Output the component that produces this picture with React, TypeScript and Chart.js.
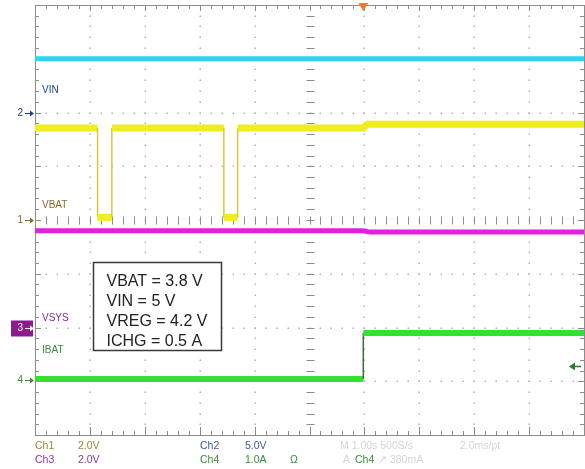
import React, { useEffect, useRef } from 'react';
import { Chart, registerables } from 'chart.js';

Chart.register(...registerables);

// ---- data (time in seconds, 1 s/div, 10 divisions) ----
const CHANNELS = ['Ch1', 'Ch2', 'Ch3', 'Ch4'];
const CH_NAMES = ['VBAT', 'VIN', 'VSYS', 'IBAT'];
const CH_SCALE = [2.0, 5.0, 2.0, 1.0];           // units per division
const CH_SCALE_TEXT = ['2.0V', '5.0V', '2.0V', '1.0A'];
const CH_GROUND_DIV = [0, 2, -2, -2.98];          // ground marker position (div)

const VBAT_T = [0, 1.14, 1.14, 1.4, 1.4, 3.44, 3.44, 3.69, 3.69, 5.98, 6.06, 10];
const VBAT_V = [3.42, 3.42, 0.1, 0.1, 3.42, 3.42, 0.1, 0.1, 3.42, 3.42, 3.56, 3.56];

const VIN_T = [0, 10];
const VIN_V = [5.0, 5.0];

const VSYS_T = [0, 5.98, 6.1, 10];
const VSYS_V = [3.6, 3.6, 3.55, 3.55];

const IBAT_T = [0, 5.98, 5.98, 10];
const IBAT_A = [0.02, 0.02, 0.88, 0.88];

const TRIGGER_T = 5.98;
const TRIGGER_LEVEL_A = 0.27;

const BOX_LINES = ['VBAT = 3.8 V', 'VIN = 5 V', 'VREG = 4.2 V', 'ICHG = 0.5 A'];
const TIMEBASE_TEXT = 'M 1.00s 500S/s';
const RECORD_TEXT = '2.0ms/pt';
const TRIGGER_TEXT = '380mA';

// ---- styles ----
const TRACE_COLORS = ['#eeee1e', '#2ad6ee', '#e21fe2', '#35e035'];
const EDGE_COLORS = ['#d2ca38', '#2ad6ee', '#e21fe2', '#3f6a3f'];
const TRACE_WIDTHS = [7, 5, 5, 6];
const LABEL_COLORS = ['#8a6a2a', '#1f3f8c', '#8a2a9a', '#3f8a3f'];
const BOTTOM_COLORS = ['#a0803c', '#3c5c9c', '#8a3a9a', '#3c8c3c'];
const LABEL_DIV = [0.27, 2.41, -1.82, -2.43];

function toDiv(ch: number, v: number) {
  return v / CH_SCALE[ch] + CH_GROUND_DIV[ch];
}

function series(ch: number, t: number[], v: number[]) {
  return t.map((tt, i) => ({ x: tt, y: toDiv(ch, v[i]) }));
}

const FONT = "'Liberation Sans', Arial, sans-serif";

const scopePlugin = {
  id: 'scope',
  beforeDatasetsDraw(chart: any) {
    const { ctx, chartArea: a, scales } = chart;
    const x = scales.x;
    const y = scales.y;
    ctx.save();
    // dotted grid
    ctx.fillStyle = '#b4b4b4';
    for (let d = 1; d <= 9; d++) {
      if (d === 5) continue;
      const px = Math.round(x.getPixelForValue(d));
      for (let m = 1; m < 40; m++) {
        const py = Math.round(y.getPixelForValue(-4 + m * 0.2));
        ctx.fillRect(px - 0.5, py - 0.5, 1.5, 1.5);
      }
    }
    for (let d = -3; d <= 3; d++) {
      if (d === 0) continue;
      const py = Math.round(y.getPixelForValue(d));
      for (let m = 1; m < 50; m++) {
        const px = Math.round(x.getPixelForValue(m * 0.2));
        ctx.fillRect(px - 0.5, py - 0.5, 1.5, 1.5);
      }
    }
    // ticks
    ctx.strokeStyle = '#8c8c8c';
    ctx.lineWidth = 1;
    ctx.beginPath();
    const cx = Math.round(x.getPixelForValue(5)) + 0.5;
    const cy = Math.round(y.getPixelForValue(0)) + 0.5;
    for (let m = 1; m < 50; m++) {
      const px = Math.round(x.getPixelForValue(m * 0.2)) + 0.5;
      const major = m % 5 === 0;
      ctx.moveTo(px, cy - 4);
      ctx.lineTo(px, cy + 4);
      ctx.moveTo(px, a.top);
      ctx.lineTo(px, a.top + (major ? 6 : 4));
      ctx.moveTo(px, a.bottom);
      ctx.lineTo(px, a.bottom - (major ? 8 : 4));
    }
    for (let m = 1; m < 40; m++) {
      const py = Math.round(y.getPixelForValue(-4 + m * 0.2)) + 0.5;
      const major = m % 5 === 0;
      ctx.moveTo(cx - 4, py);
      ctx.lineTo(cx + 4, py);
      ctx.moveTo(a.left, py);
      ctx.lineTo(a.left + (major ? 6 : 4), py);
      ctx.moveTo(a.right, py);
      ctx.lineTo(a.right - (major ? 6 : 4), py);
    }
    ctx.stroke();
    // border
    ctx.strokeStyle = '#8c8c8c';
    ctx.strokeRect(Math.round(a.left) + 0.5, Math.round(a.top) + 0.5, Math.round(a.right - a.left), Math.round(a.bottom - a.top));
    ctx.restore();
  },
  afterDraw(chart: any) {
    const { ctx, chartArea: a, scales } = chart;
    const x = scales.x;
    const y = scales.y;
    ctx.save();
    // channel ground markers and labels
    for (let ch = 0; ch < 4; ch++) {
      const gy = Math.round(y.getPixelForValue(CH_GROUND_DIV[ch])) + 0.5;
      let fg = LABEL_COLORS[ch];
      if (ch === 2) {
        ctx.fillStyle = '#8c1a8c';
        ctx.fillRect(a.left - 24, gy - 8, 22, 16);
        fg = '#ffffff';
      }
      ctx.fillStyle = fg;
      ctx.strokeStyle = fg;
      ctx.font = `10px ${FONT}`;
      ctx.textAlign = 'right';
      ctx.textBaseline = 'middle';
      ctx.fillText(String(ch + 1), a.left - 12, gy);
      ctx.lineWidth = 1;
      ctx.beginPath();
      ctx.moveTo(a.left - 10, gy);
      ctx.lineTo(a.left - 3, gy);
      ctx.stroke();
      ctx.beginPath();
      ctx.moveTo(a.left - 1, gy);
      ctx.lineTo(a.left - 5, gy - 3);
      ctx.lineTo(a.left - 5, gy + 3);
      ctx.closePath();
      ctx.fill();
      ctx.fillStyle = LABEL_COLORS[ch];
      ctx.textAlign = 'left';
      ctx.font = `10px ${FONT}`;
      ctx.fillText(CH_NAMES[ch], a.left + 7, y.getPixelForValue(LABEL_DIV[ch]));
    }
    // trigger position marker
    const tx = x.getPixelForValue(TRIGGER_T);
    ctx.fillStyle = '#f07a2a';
    ctx.beginPath();
    ctx.moveTo(tx - 5, a.top - 2);
    ctx.lineTo(tx + 5, a.top - 2);
    ctx.lineTo(tx, a.top + 6);
    ctx.closePath();
    ctx.fill();
    // trigger level marker
    const ty = Math.round(y.getPixelForValue(toDiv(3, TRIGGER_LEVEL_A))) + 0.5;
    ctx.strokeStyle = '#2f7a2f';
    ctx.fillStyle = '#2f7a2f';
    ctx.lineWidth = 1.5;
    ctx.beginPath();
    ctx.moveTo(a.right - 12, ty);
    ctx.lineTo(a.right - 3, ty);
    ctx.stroke();
    ctx.beginPath();
    ctx.moveTo(a.right - 15, ty);
    ctx.lineTo(a.right - 9, ty - 4);
    ctx.lineTo(a.right - 9, ty + 4);
    ctx.closePath();
    ctx.fill();
    // info box
    const bl = Math.round(x.getPixelForValue(1.055)) + 0.5;
    const br = Math.round(x.getPixelForValue(3.38)) + 0.5;
    const bt = Math.round(y.getPixelForValue(-0.78)) + 0.5;
    const bb = Math.round(y.getPixelForValue(-2.42)) + 0.5;
    ctx.fillStyle = '#ffffff';
    ctx.fillRect(bl, bt, br - bl, bb - bt);
    ctx.strokeStyle = '#3a3a3a';
    ctx.lineWidth = 1.5;
    ctx.strokeRect(bl, bt, br - bl, bb - bt);
    ctx.fillStyle = '#222222';
    ctx.font = `16px ${FONT}`;
    ctx.textAlign = 'left';
    ctx.textBaseline = 'middle';
    BOX_LINES.forEach((s, i) => ctx.fillText(s, bl + 13, bt + 19 + i * 20));
    // bottom readouts
    ctx.font = `10.5px ${FONT}`;
    ctx.textBaseline = 'middle';
    const rows = [a.bottom + 11, a.bottom + 25];
    const cols = [[0, 2], [1, 3]];
    const colX = [[a.left, a.left + 43], [a.left + 165, a.left + 210]];
    cols.forEach((chs, ci) => {
      chs.forEach((ch, ri) => {
        ctx.fillStyle = BOTTOM_COLORS[ch];
        ctx.fillText(CHANNELS[ch], colX[ci][0], rows[ri]);
        ctx.fillText(CH_SCALE_TEXT[ch], colX[ci][1], rows[ri]);
      });
    });
    ctx.fillStyle = BOTTOM_COLORS[3];
    ctx.fillText('Ω', a.left + 255, rows[1]);
    ctx.fillStyle = '#d4d4d4';
    ctx.fillText(TIMEBASE_TEXT, a.left + 305, rows[0]);
    ctx.fillText(RECORD_TEXT, a.left + 425, rows[0]);
    ctx.fillText('A', a.left + 308, rows[1]);
    ctx.fillText('↗ ' + TRIGGER_TEXT, a.left + 343, rows[1]);
    ctx.fillStyle = BOTTOM_COLORS[3];
    ctx.fillText(CHANNELS[3], a.left + 320, rows[1]);
    ctx.restore();
  },
};

export default function App() {
  const ref = useRef<HTMLCanvasElement | null>(null);
  useEffect(() => {
    if (!ref.current) return;
    const traces = [
      series(3, IBAT_T, IBAT_A),
      series(0, VBAT_T, VBAT_V),
      series(1, VIN_T, VIN_V),
      series(2, VSYS_T, VSYS_V),
    ];
    const chOrder = [3, 0, 1, 2];
    const chart = new Chart(ref.current, {
      type: 'line',
      data: {
        datasets: traces.map((d, i) => {
          const ch = chOrder[i];
          return {
            label: CH_NAMES[ch],
            data: d,
            borderColor: TRACE_COLORS[ch],
            borderWidth: TRACE_WIDTHS[ch],
            pointRadius: 0,
            tension: 0,
            borderCapStyle: 'butt',
            borderJoinStyle: 'miter',
            segment: {
              borderWidth: (c: any) => (c.p0.parsed.x === c.p1.parsed.x ? 1.5 : TRACE_WIDTHS[ch]),
              borderColor: (c: any) => (c.p0.parsed.x === c.p1.parsed.x ? EDGE_COLORS[ch] : TRACE_COLORS[ch]),
            },
          } as any;
        }),
      },
      options: {
        animation: false,
        responsive: false,
        devicePixelRatio: 1,
        events: [],
        layout: { padding: { left: 35, right: 1, top: 5, bottom: 34 } },
        plugins: { legend: { display: false }, tooltip: { enabled: false } },
        scales: {
          x: { type: 'linear', min: 0, max: 10, display: false },
          y: { type: 'linear', min: -4, max: 4, display: false },
        },
      },
      plugins: [scopePlugin],
    });
    return () => chart.destroy();
  }, []);
  return (
    <div style={{ position: 'absolute', left: 0, top: 0, width: 585, height: 469, background: '#ffffff' }}>
      <canvas ref={ref} width={585} height={469} />
    </div>
  );
}
